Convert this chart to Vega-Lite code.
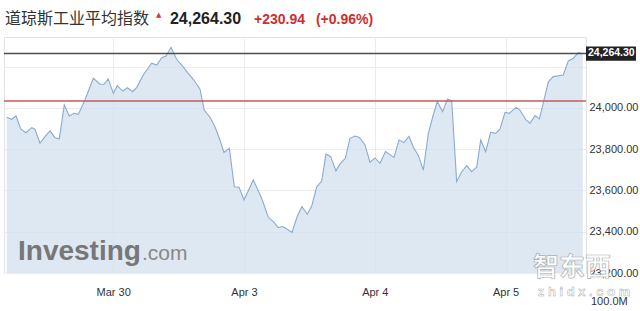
{
  "$schema": "https://vega.github.io/schema/vega-lite/v6.json",
  "width": 582,
  "height": 236,
  "autosize": {"type": "none"},
  "padding": {"left": 4, "top": 37, "right": 54, "bottom": 38},
  "background": "white",
  "config": {
    "view": {"stroke": "#e2e2e2", "strokeWidth": 1},
    "font": "Liberation Sans"
  },
  "datasets": {
    "dji": [
      {"t": 0.186, "v": 23955}, {"t": 0.224, "v": 23945}, {"t": 0.257, "v": 23961}, {"t": 0.293, "v": 23898},
      {"t": 0.333, "v": 23880}, {"t": 0.377, "v": 23905}, {"t": 0.402, "v": 23897}, {"t": 0.440, "v": 23829},
      {"t": 0.478, "v": 23861}, {"t": 0.517, "v": 23889}, {"t": 0.555, "v": 23856}, {"t": 0.588, "v": 23851},
      {"t": 0.626, "v": 24015}, {"t": 0.664, "v": 23961}, {"t": 0.700, "v": 23974}, {"t": 0.733, "v": 23969},
      {"t": 0.784, "v": 24039}, {"t": 0.848, "v": 24144}, {"t": 0.899, "v": 24115}, {"t": 0.930, "v": 24115},
      {"t": 0.962, "v": 24141}, {"t": 1.001, "v": 24071}, {"t": 1.031, "v": 24108}, {"t": 1.073, "v": 24082},
      {"t": 1.108, "v": 24098}, {"t": 1.149, "v": 24079}, {"t": 1.180, "v": 24100}, {"t": 1.230, "v": 24160},
      {"t": 1.294, "v": 24217}, {"t": 1.333, "v": 24208}, {"t": 1.371, "v": 24244}, {"t": 1.404, "v": 24252},
      {"t": 1.442, "v": 24294}, {"t": 1.485, "v": 24236}, {"t": 1.524, "v": 24208}, {"t": 1.574, "v": 24168},
      {"t": 1.612, "v": 24139}, {"t": 1.664, "v": 24091}, {"t": 1.696, "v": 23990}, {"t": 1.740, "v": 23955},
      {"t": 1.778, "v": 23909}, {"t": 1.816, "v": 23845}, {"t": 1.847, "v": 23784}, {"t": 1.888, "v": 23805},
      {"t": 1.926, "v": 23618}, {"t": 1.962, "v": 23616}, {"t": 2.000, "v": 23554}, {"t": 2.071, "v": 23651},
      {"t": 2.135, "v": 23562}, {"t": 2.186, "v": 23470}, {"t": 2.224, "v": 23449}, {"t": 2.262, "v": 23420},
      {"t": 2.296, "v": 23425}, {"t": 2.331, "v": 23412}, {"t": 2.367, "v": 23397}, {"t": 2.408, "v": 23476},
      {"t": 2.443, "v": 23522}, {"t": 2.484, "v": 23485}, {"t": 2.518, "v": 23525}, {"t": 2.556, "v": 23618},
      {"t": 2.594, "v": 23646}, {"t": 2.627, "v": 23777}, {"t": 2.663, "v": 23764}, {"t": 2.703, "v": 23695},
      {"t": 2.734, "v": 23729}, {"t": 2.775, "v": 23756}, {"t": 2.810, "v": 23853}, {"t": 2.849, "v": 23864},
      {"t": 2.883, "v": 23857}, {"t": 2.925, "v": 23821}, {"t": 2.963, "v": 23737}, {"t": 3.002, "v": 23758},
      {"t": 3.040, "v": 23732}, {"t": 3.082, "v": 23789}, {"t": 3.147, "v": 23760}, {"t": 3.185, "v": 23845},
      {"t": 3.223, "v": 23832}, {"t": 3.262, "v": 23863}, {"t": 3.294, "v": 23811}, {"t": 3.333, "v": 23770},
      {"t": 3.371, "v": 23699}, {"t": 3.409, "v": 23874}, {"t": 3.445, "v": 23961}, {"t": 3.478, "v": 24031},
      {"t": 3.518, "v": 23982}, {"t": 3.556, "v": 24042}, {"t": 3.588, "v": 24035}, {"t": 3.626, "v": 23644},
      {"t": 3.665, "v": 23691}, {"t": 3.703, "v": 23720}, {"t": 3.741, "v": 23691}, {"t": 3.779, "v": 23713},
      {"t": 3.810, "v": 23845}, {"t": 3.848, "v": 23788}, {"t": 3.886, "v": 23882}, {"t": 3.924, "v": 23877},
      {"t": 3.957, "v": 23897}, {"t": 3.996, "v": 23979}, {"t": 4.028, "v": 23974}, {"t": 4.080, "v": 24003},
      {"t": 4.110, "v": 23990}, {"t": 4.156, "v": 23942}, {"t": 4.187, "v": 23926}, {"t": 4.225, "v": 23963},
      {"t": 4.259, "v": 23947}, {"t": 4.294, "v": 24039}, {"t": 4.327, "v": 24127}, {"t": 4.365, "v": 24152},
      {"t": 4.441, "v": 24160}, {"t": 4.480, "v": 24228}, {"t": 4.518, "v": 24241}, {"t": 4.556, "v": 24268},
      {"t": 4.590, "v": 24264.3}
    ]
  },
  "layer": [
    {
      "data": {"name": "dji"},
      "mark": {"type": "area", "color": "#d3e0ee", "opacity": 0.75},
      "encoding": {
        "x": {
          "field": "t", "type": "quantitative",
          "scale": {"domain": [0.165, 4.615], "nice": false, "zero": false},
          "axis": {
            "title": null, "values": [1, 2, 3, 4],
            "labelExpr": "datum.value == 1 ? 'Mar 30' : datum.value == 2 ? 'Apr 3' : datum.value == 3 ? 'Apr 4' : 'Apr 5'",
            "domain": false, "ticks": false, "labelPadding": 13, "labelFontSize": 11, "labelColor": "#333",
            "grid": true, "gridColor": "#ececec", "labelFont": "Liberation Sans"
          }
        },
        "y": {
          "field": "v", "type": "quantitative",
          "scale": {"domain": [23200, 24344], "nice": false, "zero": false},
          "axis": {
            "title": null, "orient": "right", "values": [23200, 23400, 23600, 23800, 24000, 24200],
            "labelExpr": "datum.value == 24200 ? '' : format(datum.value, ',.2f')",
            "domain": false, "ticks": false, "labelPadding": 3, "labelFontSize": 11, "labelColor": "#333",
            "grid": true, "gridColor": "#ececec", "labelFont": "Liberation Sans", "labelBaseline": "middle"
          }
        },
        "y2": {"datum": 23200}
      }
    },
    {
      "data": {"name": "dji"},
      "mark": {"type": "line", "color": "#8aabd0", "strokeWidth": 1.1},
      "encoding": {
        "x": {"field": "t", "type": "quantitative"},
        "y": {"field": "v", "type": "quantitative"}
      }
    },
    {
      "data": {"values": [{"level": 24033.36}]},
      "mark": {"type": "rule", "color": "#c25b5b", "strokeWidth": 1.5},
      "encoding": {"y": {"field": "level", "type": "quantitative"}}
    },
    {
      "data": {"values": [{"level": 24264.3}]},
      "mark": {"type": "rule", "color": "#4d4d4d", "strokeWidth": 1.5},
      "encoding": {"y": {"field": "level", "type": "quantitative"}}
    },
    {
      "data": {"values": [{"level": 24264.3, "label": "24,264.30"}]},
      "mark": {"type": "rect", "color": "#222222"},
      "encoding": {"x": {"datum": 4.615}, "x2": {"datum": 4.997}, "y": {"datum": 24298}, "y2": {"datum": 24229}}
    },
    {
      "data": {"values": [{"level": 24264.3, "label": "24,264.30"}]},
      "mark": {"type": "text", "color": "#ffffff", "fontWeight": "bold", "fontSize": 10.5, "align": "left", "baseline": "middle", "font": "Liberation Sans"},
      "encoding": {"x": {"datum": 4.630}, "y": {"field": "level", "type": "quantitative"}, "text": {"field": "label"}}
    },
    {
      "data": {"values": [{"label": "100.0M"}]},
      "mark": {"type": "text", "color": "#333", "fontSize": 11, "align": "left", "baseline": "middle", "font": "Liberation Sans"},
      "encoding": {"x": {"datum": 4.653}, "y": {"datum": 23059}, "text": {"field": "label"}}
    },
    {
      "data": {"values": [{"label": "道琼斯工业平均指数"}]},
      "mark": {"type": "text", "color": "#333", "fontSize": 16, "align": "left", "baseline": "alphabetic", "font": "Noto Sans CJK SC"},
      "encoding": {"x": {"datum": 0.1726}, "y": {"datum": 24409}, "text": {"field": "label"}}
    },
    {
      "data": {"values": [{"label": "▲"}]},
      "mark": {"type": "text", "color": "#d33a3a", "fontSize": 7, "align": "left", "baseline": "alphabetic", "font": "DejaVu Sans"},
      "encoding": {"x": {"datum": 1.327}, "y": {"datum": 24441}, "text": {"field": "label"}}
    },
    {
      "data": {"values": [{"label": "24,264.30"}]},
      "mark": {"type": "text", "color": "#222", "fontSize": 16, "fontWeight": "bold", "align": "left", "baseline": "alphabetic", "font": "Liberation Sans"},
      "encoding": {"x": {"datum": 1.434}, "y": {"datum": 24407}, "text": {"field": "label"}}
    },
    {
      "data": {"values": [{"label": "+230.94"}]},
      "mark": {"type": "text", "color": "#cc2f2f", "fontSize": 14, "fontWeight": "bold", "align": "left", "baseline": "alphabetic", "font": "Liberation Sans"},
      "encoding": {"x": {"datum": 2.0765}, "y": {"datum": 24407}, "text": {"field": "label"}}
    },
    {
      "data": {"values": [{"label": "(+0.96%)"}]},
      "mark": {"type": "text", "color": "#cc2f2f", "fontSize": 14, "fontWeight": "bold", "align": "left", "baseline": "alphabetic", "font": "Liberation Sans"},
      "encoding": {"x": {"datum": 2.55}, "y": {"datum": 24407}, "text": {"field": "label"}}
    },
    {
      "data": {"values": [{"label": "Investing"}]},
      "mark": {"type": "text", "color": "#777777", "fontSize": 28, "fontWeight": "bold", "align": "left", "baseline": "alphabetic", "font": "Liberation Sans"},
      "encoding": {"x": {"datum": 0.272}, "y": {"datum": 23263}, "text": {"field": "label"}}
    },
    {
      "data": {"values": [{"label": ".com"}]},
      "mark": {"type": "text", "color": "#888888", "fontSize": 21, "align": "left", "baseline": "alphabetic", "font": "Liberation Sans"},
      "encoding": {"x": {"datum": 1.22}, "y": {"datum": 23263}, "text": {"field": "label"}}
    },
    {
      "data": {"values": [{"label": "智东西"}]},
      "mark": {"type": "text", "color": "#ffffff", "stroke": "#aaaaaa", "strokeWidth": 0.7, "fontSize": 26, "fontWeight": "bold", "align": "center", "baseline": "middle", "font": "Noto Sans CJK SC", "opacity": 0.92},
      "encoding": {"x": {"datum": 4.508}, "y": {"datum": 23224}, "text": {"field": "label"}}
    },
    {
      "data": {"values": [{"label": "z h i d x . c o m"}]},
      "mark": {"type": "text", "color": "#ffffff", "stroke": "#aaaaaa", "strokeWidth": 0.5, "fontSize": 13, "fontWeight": "bold", "align": "center", "baseline": "middle", "font": "Liberation Sans", "opacity": 0.92},
      "encoding": {"x": {"datum": 4.6}, "y": {"datum": 23108}, "text": {"field": "label"}}
    }
  ]
}
